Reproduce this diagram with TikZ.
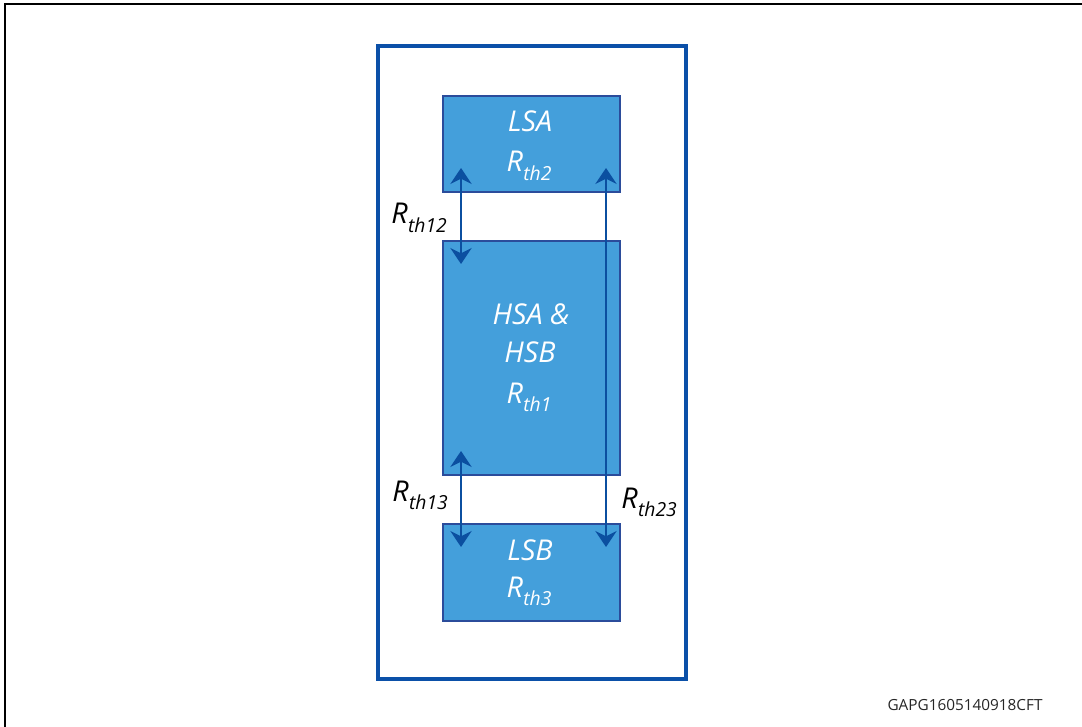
\documentclass[tikz,border=0pt]{standalone}
\usepackage{fontspec}
\setmainfont{Open Sans}
\usetikzlibrary{arrows.meta}
\definecolor{boxfill}{HTML}{449FDB}
\definecolor{boxline}{HTML}{2B4C9B}
\definecolor{frameblue}{HTML}{0B50A8}
\definecolor{arrowblue}{HTML}{0B4FA0}
\newcommand{\Rth}[1]{R\kern0.3pt\raisebox{-6.5pt}{\fontsize{14.5}{14.5}\selectfont th#1}}
\tikzset{
  blk/.style={draw=boxline, line width=1.8pt, fill=boxfill, inner sep=0pt},
  wtxt/.style={text=white, font=\fontsize{21.5}{24}\selectfont\itshape, inner sep=0pt, anchor=base},
  btxt/.style={text=black, font=\fontsize{21.5}{24}\selectfont\itshape, inner sep=0pt, anchor=base west},
  darr/.style={draw=arrowblue, line width=1.9pt, {Stealth[length=12pt,width=16pt,inset=4pt]}-{Stealth[length=12pt,width=16pt,inset=4pt]}}
}
\begin{document}
\begin{tikzpicture}[x=0.75pt,y=-0.75pt]
\useasboundingbox (0,0) rectangle (1082,727);
% outer page frame
\draw[line width=2.2pt] (5,727) -- (5,4) -- (1082,4);
% blue frame
\node[draw=frameblue, line width=3pt, minimum width=231pt, minimum height=474.75pt, inner sep=0pt] (frame) at (531.5,362.5) {};
% boxes
\node[blk, minimum width=132.75pt, minimum height=72pt] (lsa) at (531.5,144) {};
\node[blk, minimum width=132.75pt, minimum height=175.5pt] (hs) at (531.5,358) {};
\node[blk, minimum width=132.75pt, minimum height=72.75pt] (lsb) at (531.5,572.5) {};
% box texts
\node[wtxt] (tlsa) at (530,132) {LSA};
\node[wtxt] (tr2) at (529,172) {\Rth{2}};
\node[wtxt] (ths1) at (531,325) {HSA \&};
\node[wtxt] (ths2) at (530,363) {HSB};
\node[wtxt] (tr1) at (529,403) {\Rth{1}};
\node[wtxt] (tlsb) at (530,560) {LSB};
\node[wtxt] (tr3) at (529,597) {\Rth{3}};
% arrow anchor coordinates
\coordinate (a1) at (461,168);
\coordinate (a2) at (461,264);
\coordinate (b1) at (461,451);
\coordinate (b2) at (461,547);
\coordinate (c1) at (606,168);
\coordinate (c2) at (606,547);
\draw[darr] (a1) -- (a2);
\draw[darr] (b1) -- (b2);
\draw[darr] (c1) -- (c2);
% resistance labels
\node[btxt] (r12) at (391,224) {\Rth{12}};
\node[btxt] (r13) at (392,501) {\Rth{13}};
\node[btxt] (r23) at (621,508) {\Rth{23}};
% figure id
\node[font=\fontsize{11.5}{13}\selectfont, text=black!85, inner sep=0pt, anchor=base] (gid) at (965,710) {GAPG1605140918CFT};
\end{tikzpicture}
\end{document}
